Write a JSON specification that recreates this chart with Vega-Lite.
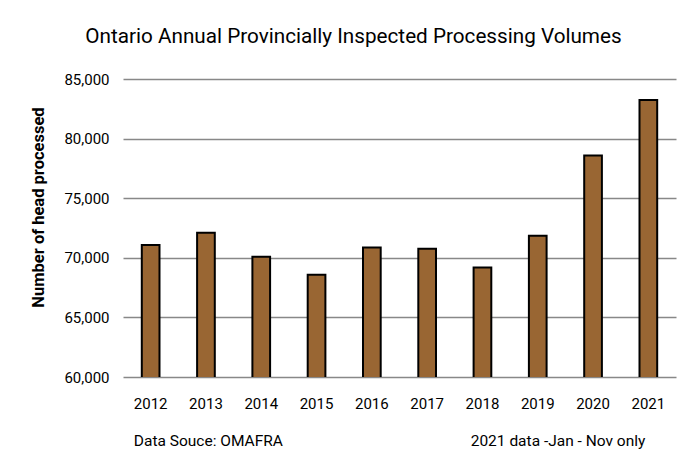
{
  "$schema": "https://vega.github.io/schema/vega-lite/v6.json",
  "width": 553,
  "height": 298,
  "autosize": {"type": "none"},
  "padding": {"left": 123, "top": 79, "right": 24, "bottom": 95},
  "background": "white",
  "title": {
    "text": "Ontario Annual Provincially Inspected Processing Volumes",
    "font": "Roboto",
    "fontSize": 20.7,
    "fontWeight": "normal",
    "color": "#000000",
    "anchor": "middle",
    "dx": -46,
    "offset": 24
  },
  "config": {
    "view": {"stroke": null},
    "font": "Roboto"
  },
  "layer": [
    {
      "data": {
        "values": [
          {"year": "2012", "volume": 71070},
          {"year": "2013", "volume": 72110},
          {"year": "2014", "volume": 70090},
          {"year": "2015", "volume": 68580},
          {"year": "2016", "volume": 70870},
          {"year": "2017", "volume": 70760},
          {"year": "2018", "volume": 69190},
          {"year": "2019", "volume": 71850},
          {"year": "2020", "volume": 78590},
          {"year": "2021", "volume": 83240}
        ]
      },
      "mark": {"type": "bar", "fill": "#996633", "stroke": "#000000", "strokeWidth": 2, "clip": true},
      "encoding": {
        "x": {
          "field": "year",
          "type": "ordinal",
          "scale": {"paddingInner": 0.68, "paddingOuter": 0.34},
          "axis": {
            "title": null,
            "labelAngle": 0,
            "labelFont": "Roboto",
            "labelFontSize": 15,
            "labelColor": "#000000",
            "labelPadding": 19,
            "ticks": false,
            "domain": false
          }
        },
        "y": {
          "field": "volume",
          "type": "quantitative",
          "scale": {"domain": [60000, 85000], "nice": false, "zero": false},
          "axis": {
            "title": "Number of head processed",
            "titleFont": "Roboto",
            "titleFontSize": 16.5,
            "titleFontWeight": "bold",
            "titleColor": "#000000",
            "titlePadding": 17,
            "titleY": 128,
            "values": [60000, 65000, 70000, 75000, 80000, 85000],
            "format": ",.0f",
            "labelFont": "Roboto",
            "labelFontSize": 15,
            "labelColor": "#000000",
            "labelPadding": 14,
            "ticks": false,
            "domain": false,
            "grid": true,
            "gridColor": "#888888",
            "gridWidth": 1.5
          }
        }
      }
    },
    {
      "data": {"values": [{"year": "2012", "note": "Data Souce: OMAFRA"}]},
      "mark": {"type": "text", "align": "left", "baseline": "middle", "font": "Roboto", "fontSize": 15.5, "dx": -8, "color": "#000000"},
      "encoding": {
        "x": {"field": "year", "type": "ordinal", "bandPosition": 0},
        "y": {"datum": 54660, "type": "quantitative"},
        "text": {"field": "note"}
      }
    },
    {
      "data": {"values": [{"year": "2021", "note": "2021 data -Jan - Nov only"}]},
      "mark": {"type": "text", "align": "right", "baseline": "middle", "font": "Roboto", "fontSize": 15.5, "dx": -3, "color": "#000000"},
      "encoding": {
        "x": {"field": "year", "type": "ordinal"},
        "y": {"datum": 54660, "type": "quantitative"},
        "text": {"field": "note"}
      }
    }
  ]
}
